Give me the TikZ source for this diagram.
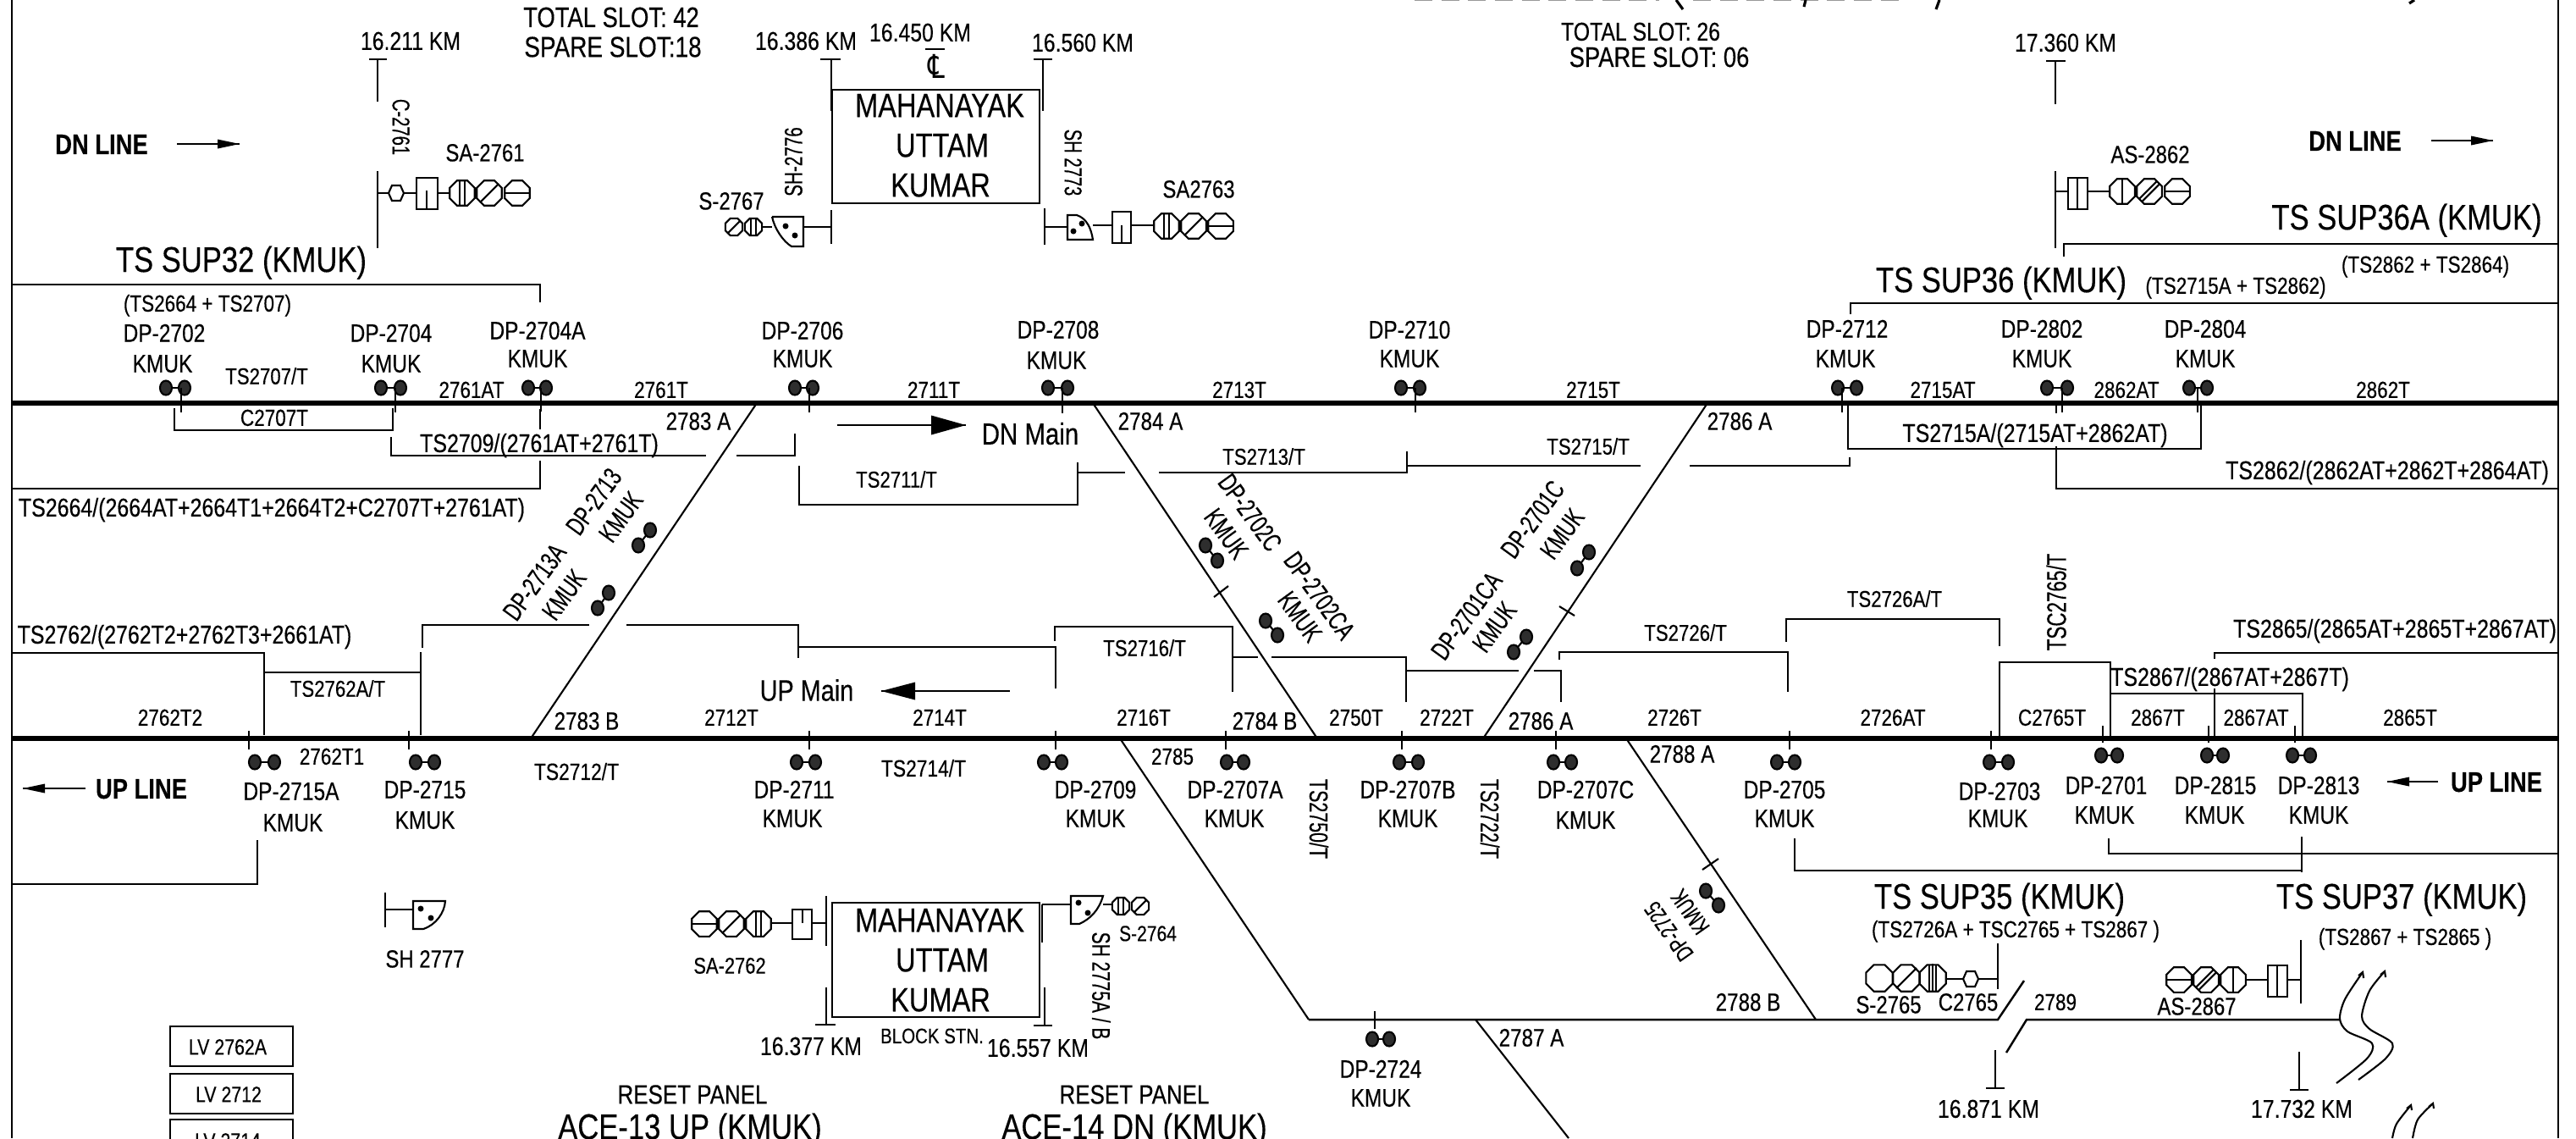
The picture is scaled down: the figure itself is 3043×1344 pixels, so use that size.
\documentclass[tikz,border=0pt]{standalone}
\usepackage{fontspec}
\setmainfont{Liberation Sans}
\newfontfamily\nf{Liberation Sans}[FakeStretch=0.82,FakeBold=0.3]
\newfontfamily\nfv{Liberation Sans}[FakeStretch=0.7,FakeBold=0.3]
\newfontfamily\symf{DejaVu Sans}[FakeStretch=0.8]
\newdimen\lblcap
\newcommand\lbl[5][]{\lblcap=#4pt \lblcap=0.716\lblcap \node[lab,text height=\the\lblcap,#1] at (#2,#3) {\nf\fontsize{#4}{#4}\selectfont #5};}
\newcommand\lbv[5][]{\lblcap=#4pt \lblcap=0.716\lblcap \node[lab,text height=\the\lblcap,#1] at (#2,#3) {\nfv\fontsize{#4}{#4}\selectfont #5};}
\newcommand\octa[3]{\draw[shift={(#1,#2)}] (22.5:#3)--(67.5:#3)--(112.5:#3)--(157.5:#3)--(202.5:#3)--(247.5:#3)--(292.5:#3)--(337.5:#3)--cycle;}
\newcommand\hV[3]{\octa{#1}{#2}{#3}\draw[shift={(#1,#2)}] (-3,{-.98*#3})--(-3,{.98*#3}) (3,{-.98*#3})--(3,{.98*#3});}
\newcommand\hS[3]{\octa{#1}{#2}{#3}\draw[shift={(#1,#2)}] (0,{-.98*#3})--(0,{.98*#3});}
\newcommand\hT[3]{\octa{#1}{#2}{#3}\draw[shift={(#1,#2)}] (-4,{-.95*#3})--(-4,{.95*#3}) (0,{-.98*#3})--(0,{.98*#3}) (4,{-.95*#3})--(4,{.95*#3});}
\newcommand\hD[3]{\octa{#1}{#2}{#3}\draw[shift={(#1,#2)}] ({-.7*#3},{.7*#3})--({.7*#3},{-.7*#3});}
\newcommand\hW[3]{\octa{#1}{#2}{#3}\draw[shift={(#1,#2)}] ({-.75*#3},{.55*#3})--({.55*#3},{-.75*#3}) ({-.55*#3},{.75*#3})--({.75*#3},{-.55*#3});}
\newcommand\hH[3]{\octa{#1}{#2}{#3}\draw[shift={(#1,#2)}] (-#3,0)--(#3,0);}
\newcommand\hex[2]{\draw[shift={(#1,#2)}] (-9,0)--(-5,-9)--(5,-9)--(9,0)--(5,9)--(-5,9)--cycle;}
\newcommand\dpair[4]{\draw (#1,#2)--(#3,#4);\fill[black!82,draw=black] (#1,#2) ellipse (7 and 8.5);\fill[black!82,draw=black] (#3,#4) ellipse (7 and 8.5);}
\newcommand\dpr[3]{\dpair{#1}{#3}{#2}{#3}}
\newcommand\arR[5]{\draw (#1,#3)--(#2,#3);\fill (#2,#3)--({#2-#4},{#3-#5})--({#2-#4},{#3+#5})--cycle;}
\newcommand\arL[5]{\draw (#1,#3)--(#2,#3);\fill (#2,#3)--({#2+#4},{#3-#5})--({#2+#4},{#3+#5})--cycle;}
\tikzset{
  lab/.style={inner sep=0pt,outer sep=0pt,text depth=0pt,align=center},
  track/.style={line width=1.5pt},
}
\begin{document}
\begin{tikzpicture}[x=0.01cm,y=-0.01cm,line width=0.6pt]
\useasboundingbox (0,0) rectangle (3043,1344);
\clip (0,0) rectangle (3043,1344);
\fill[white] (0,0) rectangle (3043,1344);
% frame
\draw[line width=0.75pt] (14,0)--(14,1344) (3022,0)--(3022,1344);
% clipped title slivers
\draw[black!40,line width=0.3pt,dash pattern=on 6pt off 3pt] (1671,0.6)--(1960,0.6) (2000,0.6)--(2250,0.6);
\draw[line width=0.9pt] (1980,0)--(1988,11) (2133,0)--(2131,8) (2291,0)--(2287,11) (2852,0)--(2846,4);
% tracks
\draw[track] (14,476)--(3022,476) (14,872)--(3022,872);
% diagonals
\draw (894,476)--(627,872) (1291,476)--(1556,872) (2017,476)--(1752,872)
      (1323,872)--(1546,1204) (1921,872)--(2145,1204) (1743,1204)--(1853,1344);
\draw[line width=0.7pt] (1546,1204)--(2360,1204)--(2391,1158) (2370,1243)--(2394,1204)--(2764,1204);
\draw (1434,705)--(1451,692) (1842,716)--(1860,727) (2011,1027)--(2030,1014);
% breaks
\draw plot[smooth] coordinates {(2791,1148)(2770,1180)(2764,1203)(2773,1218)(2802,1232)(2796,1250)(2760,1279)};
\draw plot[smooth] coordinates {(2817,1147)(2799,1170)(2790,1200)(2799,1215)(2826,1232)(2818,1250)(2786,1275)};
\draw plot[smooth] coordinates {(2848,1305)(2831,1327)(2826,1344)};
\draw plot[smooth] coordinates {(2874,1303)(2856,1322)(2850,1344)};
\draw (2786,1152)--(2791,1148)--(2792,1155) (2812,1151)--(2817,1147)--(2818,1154) (2843,1309)--(2848,1305)--(2849,1311) (2869,1307)--(2874,1303)--(2875,1309);
% DN dots + stems
\dpr{196}{218}{458}\draw (214,458)--(214,487);
\dpr{450}{473}{458}\draw (467,458)--(467,487);
\dpr{624}{645}{458}\draw (639,458)--(639,486);
\dpr{939}{960}{458}\draw (956,458)--(956,487);
\dpr{1238}{1261}{458}\draw (1255,458)--(1255,488);
\dpr{1655}{1677}{458}\draw (1672,458)--(1672,487);
\dpr{2171}{2193}{458}\draw (2176,458)--(2176,487);
\dpr{2418}{2442}{458}\draw (2436,458)--(2436,487) (2429,478)--(2429,488);
\dpr{2586}{2607}{458}\draw (2596,458)--(2596,487);
% UP dots + stems
\dpr{301}{324}{900}\draw (294,863)--(294,885);
\dpr{491}{513}{900}\draw (483,863)--(483,885);
\dpr{941}{963}{900}\draw (956,863)--(956,885);
\dpr{1233}{1254}{900}\draw (1247,863)--(1247,885);
\dpr{1449}{1469}{900}\draw (1448,863)--(1448,885);
\dpr{1653}{1675}{900}\draw (1656,863)--(1656,885);
\dpr{1835}{1856}{900}\draw (1838,863)--(1838,885);
\dpr{2099}{2120}{900}\draw (2114,863)--(2114,885);
\dpr{2350}{2372}{900}\draw (2352,863)--(2352,885);
\dpr{2482}{2501}{892}\draw (2484,857)--(2484,877);
\dpr{2607}{2626}{892}\draw (2609,857)--(2609,877);
\dpr{2708}{2729}{892}\draw (2711,857)--(2711,877);
\dpr{1621}{1641}{1227}\draw (1624,1194)--(1624,1215);
% diagonal dots
\dpair{768}{626}{754}{644}
\dpair{719}{700}{706}{718}
\dpair{1424}{644}{1438}{662}
\dpair{1495}{733}{1509}{750}
\dpair{1803}{752}{1788}{770}
\dpair{1877}{652}{1863}{671}
\dpair{2015}{1052}{2030}{1069}
% track circuit lines DN
\draw (14,336)--(638,336)--(638,357);
\draw (2186,371)--(2186,358)--(3022,358);
\draw (2438,303)--(2438,288)--(3022,288);
\draw (206,482)--(206,508)--(464,508)--(464,482);
\draw (462,516)--(462,538)--(834,538) (870,538)--(939,538)--(939,512);
\draw (638,483)--(638,507) (638,544)--(638,577)--(14,577);
\draw (944,550)--(944,596)--(1273,596)--(1273,546) (1273,558)--(1329,558) (1369,558)--(1662,558)--(1662,533) (1662,550)--(1938,550) (1996,550)--(2185,550)--(2185,540);
\draw (2183,478)--(2183,530)--(2600,530)--(2600,478);
\draw (2429,527)--(2429,577)--(3022,577);
% track circuit lines UP
\draw (14,771)--(312,771)--(312,868) (312,794)--(497,794) (497,770)--(497,868);
\draw (499,765)--(499,738)--(696,738) (740,738)--(943,738)--(943,777) (943,764)--(1247,764)--(1247,813);
\draw (1246,757)--(1246,740)--(1456,740)--(1456,817) (1456,776)--(1486,776) (1502,776)--(1661,776)--(1661,829) (1661,792)--(1794,792) (1812,792)--(1844,792)--(1844,829);
\draw (1842,779)--(1842,770)--(2112,770)--(2112,817);
\draw (2110,758)--(2110,731)--(2362,731)--(2362,763);
\draw (2362,872)--(2362,782)--(2493,782)--(2493,872) (2493,819)--(2720,819)--(2720,872);
\draw (2616,778)--(2616,771)--(3022,771) (2616,813)--(2616,872);
\draw (304,992)--(304,1044)--(14,1044);
\draw (2120,990)--(2120,1028)--(2719,1028) (2719,988)--(2719,1030);
\draw (2491,990)--(2491,1008)--(3022,1008);
% km markers
\draw (436,70)--(457,70) (446,70)--(446,120) (446,202)--(446,293);
\draw (969,70)--(993,70) (982,70)--(982,131) (982,248)--(982,288);
\draw (1221,70)--(1243,70) (1232,70)--(1232,131) (1234,246)--(1234,289);
\draw (1093,58)--(1116,58);
\draw (2417,72)--(2440,72) (2428,72)--(2428,123) (2428,202)--(2428,293);
\draw (2357,1240)--(2357,1285) (2346,1285)--(2368,1285);
\draw (2716,1242)--(2716,1287) (2705,1287)--(2727,1287);
\draw (976,1058)--(976,1117) (976,1166)--(976,1210) (963,1210)--(987,1210);
\draw (1231,1068)--(1231,1113) (1234,1166)--(1234,1211) (1221,1211)--(1243,1211);
% station boxes
\draw[line width=0.7pt] (983,106) rectangle (1228,240);
\draw[line width=0.7pt] (983,1066) rectangle (1228,1201);
% LV boxes
\draw[line width=0.7pt] (201,1212) rectangle (346,1259) (201,1268) rectangle (346,1315) (201,1322) rectangle (346,1400);
% signal SA-2761
\draw (446,228)--(459,228) (477,228)--(492,228) (517,228)--(531,228);
\hex{468}{228}
\draw (492,210) rectangle (517,247) (504,225)--(504,247);
\hV{546}{228}{16}\hD{578}{228}{16}\hH{611}{228}{16}
% signal SA2763
\draw (1234,268)--(1261,268) (1291,266)--(1314,266) (1336,266)--(1362,266);
\draw (1261,254)--(1272,254) .. controls (1284,258) and (1289,270) .. (1291,283)--(1261,283)--cycle;
\fill (1278,264) circle (3.5) (1268,273) circle (3.5);
\draw (1314,250) rectangle (1336,287) (1325,266)--(1325,287);
\hV{1378}{267}{16}\hD{1410}{267}{16}\hH{1442}{267}{16}
% signal S-2767
\draw (949,268)--(982,268);
\draw (912,256)--(949,256)--(949,291)--(935,291) .. controls (925,285) and (915,270) .. (912,256);
\fill (928,267) circle (3.5) (939,278) circle (3.5);
\draw (901,268)--(912,268);
\hV{890}{268}{11}\hD{867}{268}{11}
% signal AS-2862
\draw (2428,226)--(2443,226) (2466,226)--(2491,226);
\draw (2443,210) rectangle (2466,247) (2454,210)--(2454,247);
\hS{2507}{226}{16}\hW{2539}{226}{16}\hH{2572}{226}{16}
% signal SH 2777
\draw (455,1054)--(455,1095) (455,1074)--(488,1074);
\draw (488,1064)--(526,1064) .. controls (525,1078) and (515,1092) .. (500,1097)--(488,1097)--cycle;
\fill (497,1073) circle (3.5) (509,1084) circle (3.5);
% signal SA-2762
\draw (976,1090)--(959,1090) (936,1090)--(912,1090);
\draw (936,1074) rectangle (959,1109) (948,1074)--(948,1090);
\hH{832}{1091}{16}\hD{864}{1091}{16}\hV{896}{1091}{16}
% signal S-2764
\draw (1231,1068)--(1265,1068) (1303,1068)--(1313,1068);
\draw (1265,1058)--(1303,1058) .. controls (1298,1075) and (1288,1085) .. (1275,1091)--(1265,1091)--cycle;
\fill (1274,1066) circle (3.5) (1285,1078) circle (3.5);
\hV{1324}{1070}{11}\hD{1347}{1070}{11}
% signal S-2765
\draw (2360,1114)--(2360,1168) (2360,1156)--(2337,1156) (2319,1156)--(2299,1156);
\hex{2328}{1156}
\octa{2220}{1155}{17}\hD{2252}{1155}{17}\hT{2283}{1155}{17}
% signal AS-2867
\draw (2718,1110)--(2718,1185) (2718,1157)--(2702,1157) (2679,1157)--(2654,1157);
\draw (2679,1140) rectangle (2702,1177) (2690,1140)--(2690,1177);
\hH{2574}{1157}{16}\hW{2606}{1157}{16}\hS{2638}{1157}{16}
% arrows
\arR{209}{283}{170}{26}{5.5}
\arR{2872}{2945}{166}{26}{5.5}
\arL{101}{27}{931}{26}{5.5}
\arL{2880}{2820}{923}{26}{5.5}
\arR{989}{1141}{502}{41}{11.5}
\arL{1193}{1041}{816}{40}{10.5}
% ---- texts
\lbl{722}{20}{9.5}{TOTAL SLOT: 42}
\lbl{724}{55}{9.7}{SPARE SLOT:18}
\lbl{1938}{37}{8.6}{TOTAL SLOT: 26}
\lbl{1960}{67}{9.5}{SPARE SLOT: 06}
\lbl{485}{48}{8.6}{16.211 KM}
\lbl{952}{48}{8.6}{16.386 KM}
\lbl{1087}{38}{8.6}{16.450 KM}
\lbl{1279}{50}{8.6}{16.560 KM}
\lbl{2440}{50}{8.6}{17.360 KM}
\node[lab] at (1106,78) {\symf\fontsize{11}{11}\selectfont ℄};
\lbl{120}{170}{9.5}{\bfseries DN LINE}
\lbl{2782}{166}{9.5}{\bfseries DN LINE}
\lbl{167}{931}{9.5}{\bfseries UP LINE}
\lbl{2949}{923}{9.5}{\bfseries UP LINE}
\lbv[rotate=-90]{474}{150}{8.2}{C-2761}
\lbv[rotate=90]{937}{191}{8.4}{SH-2776}
\lbv[rotate=-90]{1268}{192}{8.2}{SH 2773}
\lbv[rotate=90]{2429}{711}{9.1}{TSC2765/T}
\lbv[rotate=-90]{1558}{967}{8.7}{TS2750/T}
\lbv[rotate=-90]{1760}{967}{8.7}{TS2722/T}
\lbv[rotate=-90]{1301}{1164}{8.5}{SH 2775A / B}
\lbl{573}{180}{8.3}{SA-2761}
\lbl{1416}{223}{8.3}{SA2763}
\lbl{864}{237}{8.3}{S-2767}
\lbl{2540}{182}{8.3}{AS-2862}
\lbl{862}{1140}{7.6}{SA-2762}
\lbl{1356}{1102}{7.3}{S-2764}
\lbl{502}{1132}{8.3}{SH 2777}
\lbl{2231}{1186}{8.3}{S-2765}
\lbl{2325}{1183}{8.3}{C2765}
\lbl{2595}{1188}{8.3}{AS-2867}
\foreach \yy in {124,1086}{\lbl{1110}{\yy}{11.3}{MAHANAYAK}}
\foreach \yy in {171,1133}{\lbl{1113}{\yy}{11.3}{UTTAM}}
\foreach \yy in {218,1180}{\lbl{1111}{\yy}{11.3}{KUMAR}}
\lbl{285}{306}{12}{TS SUP32 (KMUK)}
\lbl{2364}{330}{12}{TS SUP36 (KMUK)}
\lbl{2843}{256}{12}{TS SUP36A (KMUK)}
\lbl{2362}{1058}{12}{TS SUP35 (KMUK)}
\lbl{2837}{1058}{12}{TS SUP37 (KMUK)}
\lbl{245}{358}{7.8}{(TS2664 + TS2707)}
\lbl{2641}{337}{7.8}{(TS2715A + TS2862)}
\lbl{2865}{312}{7.8}{(TS2862 + TS2864)}
\lbl{2381}{1097}{7.8}{(TS2726A + TSC2765 + TS2867 )}
\lbl{2841}{1106}{7.8}{(TS2867 + TS2865 )}
% DP labels above DN
\lbl{194}{393}{8.5}{DP-2702}\lbl{192}{429}{8.5}{KMUK}
\lbl{462}{393}{8.5}{DP-2704}\lbl{462}{429}{8.5}{KMUK}
\lbl{635}{390}{8.5}{DP-2704A}\lbl{635}{423}{8.5}{KMUK}
\lbl{948}{390}{8.5}{DP-2706}\lbl{948}{423}{8.5}{KMUK}
\lbl{1250}{389}{8.5}{DP-2708}\lbl{1248}{425}{8.5}{KMUK}
\lbl{1665}{389}{8.5}{DP-2710}\lbl{1665}{423}{8.5}{KMUK}
\lbl{2182}{388}{8.5}{DP-2712}\lbl{2180}{423}{8.5}{KMUK}
\lbl{2412}{388}{8.5}{DP-2802}\lbl{2412}{423}{8.5}{KMUK}
\lbl{2605}{388}{8.5}{DP-2804}\lbl{2605}{423}{8.5}{KMUK}
\lbl{315}{444}{7.7}{TS2707/T}
% row DN
\lbl{557}{460}{7.8}{2761AT}
\lbl{781}{460}{7.8}{2761T}
\lbl{1103}{460}{7.8}{2711T}
\lbl{1464}{460}{7.8}{2713T}
\lbl{1882}{460}{7.8}{2715T}
\lbl{2295}{460}{7.8}{2715AT}
\lbl{2512}{460}{7.8}{2862AT}
\lbl{2815}{460}{7.8}{2862T}
% below DN
\lbl{324}{493}{7.8}{C2707T}
\lbl{637}{523}{8.65}{TS2709/(2761AT+2761T)}
\lbl{321}{599}{8.65}{TS2664/(2664AT+2664T1+2664T2+C2707T+2761AT)}
\lbl{825}{497}{8.4}{2783 A}
\lbl{1359}{497}{8.4}{2784 A}
\lbl{2055}{497}{8.4}{2786 A}
\lbl{1217}{512}{10.2}{DN Main}
\lbl{1059}{566}{7.7}{TS2711/T}
\lbl{1493}{539}{7.7}{TS2713/T}
\lbl{1876}{527}{7.7}{TS2715/T}
\lbl{2404}{511}{8.65}{TS2715A/(2715AT+2862AT)}
\lbl{2820}{555}{8.65}{TS2862/(2862AT+2862T+2864AT)}
% diagonal labels
\lbv[rotate=54]{701}{592}{9}{DP-2713}\lbv[rotate=54]{733}{610}{9}{KMUK}
\lbv[rotate=54]{631}{687}{9}{DP-2713A}\lbv[rotate=54]{666}{702}{9}{KMUK}
\lbv[rotate=-54]{1477}{605}{9}{DP-2702C}\lbv[rotate=-54]{1449}{630}{9}{KMUK}
\lbv[rotate=-54]{1559}{703}{9}{DP-2702CA}\lbv[rotate=-54]{1536}{728}{9}{KMUK}
\lbv[rotate=54]{1732}{727}{9}{DP-2701CA}\lbv[rotate=54]{1765}{740}{9}{KMUK}
\lbv[rotate=54]{1810}{613}{9}{DP-2701C}\lbv[rotate=54]{1845}{630}{9}{KMUK}
\lbv[rotate=125]{1971}{1100}{8}{DP-2725}\lbv[rotate=125]{1996}{1077}{8}{KMUK}
% above UP
\lbl{218}{749}{8.65}{TS2762/(2762T2+2762T3+2661AT)}
\lbl{399}{813}{7.7}{TS2762A/T}
\lbl{953}{815}{10}{UP Main}
\lbl{1352}{765}{7.7}{TS2716/T}
\lbl{1991}{747}{7.7}{TS2726/T}
\lbl{2238}{707}{7.7}{TS2726A/T}
\lbl{2634}{799}{8.65}{TS2867/(2867AT+2867T)}
\lbl{2829}{742}{8.65}{TS2865/(2865AT+2865T+2867AT)}
\lbl{201}{847}{7.8}{2762T2}
\lbl{693}{851}{8.4}{2783 B}
\lbl{864}{847}{7.8}{2712T}
\lbl{1110}{847}{7.8}{2714T}
\lbl{1351}{847}{7.8}{2716T}
\lbl{1494}{851}{8.4}{2784 B}
\lbl{1602}{847}{7.8}{2750T}
\lbl{1709}{847}{7.8}{2722T}
\lbl{1820}{851}{8.4}{2786 A}
\lbl{1978}{847}{7.8}{2726T}
\lbl{2236}{847}{7.8}{2726AT}
\lbl{2424}{847}{7.8}{C2765T}
\lbl{2549}{847}{7.8}{2867T}
\lbl{2665}{847}{7.8}{2867AT}
\lbl{2847}{847}{7.8}{2865T}
% below UP
\lbl{392}{893}{7.8}{2762T1}
\lbl{1385}{893}{7.8}{2785}
\lbl{1987}{890}{8.4}{2788 A}
\lbl{681}{911}{7.9}{TS2712/T}
\lbl{1091}{907}{7.9}{TS2714/T}
\lbl{344}{934}{8.5}{DP-2715A}\lbl{346}{971}{8.5}{KMUK}
\lbl{502}{932}{8.5}{DP-2715}\lbl{502}{968}{8.5}{KMUK}
\lbl{938}{932}{8.5}{DP-2711}\lbl{936}{966}{8.5}{KMUK}
\lbl{1294}{932}{8.5}{DP-2709}\lbl{1294}{966}{8.5}{KMUK}
\lbl{1459}{932}{8.5}{DP-2707A}\lbl{1458}{966}{8.5}{KMUK}
\lbl{1663}{932}{8.5}{DP-2707B}\lbl{1663}{966}{8.5}{KMUK}
\lbl{1873}{932}{8.5}{DP-2707C}\lbl{1873}{968}{8.5}{KMUK}
\lbl{2108}{932}{8.5}{DP-2705}\lbl{2108}{966}{8.5}{KMUK}
\lbl{2362}{934}{8.5}{DP-2703}\lbl{2360}{966}{8.5}{KMUK}
\lbl{2488}{927}{8.5}{DP-2701}\lbl{2486}{962}{8.5}{KMUK}
\lbl{2617}{927}{8.5}{DP-2815}\lbl{2616}{962}{8.5}{KMUK}
\lbl{2739}{927}{8.5}{DP-2813}\lbl{2739}{962}{8.5}{KMUK}
\lbl{1631}{1262}{8.5}{DP-2724}\lbl{1631}{1296}{8.5}{KMUK}
% bottom
\lbl{2065}{1183}{8.4}{2788 B}
\lbl{2428}{1183}{7.8}{2789}
\lbl{1809}{1225}{8.4}{2787 A}
\lbl{958}{1235}{8.6}{16.377 KM}
\lbl{1226}{1237}{8.6}{16.557 KM}
\lbl{1101}{1223}{7.1}{BLOCK STN.}
\lbl{2349}{1309}{8.6}{16.871 KM}
\lbl{2719}{1309}{8.6}{17.732 KM}
\lbl{269}{1236}{7.4}{LV 2762A}
\lbl{270}{1292}{7.4}{LV 2712}
\lbl{269}{1347}{7.4}{LV 2714}
\lbl{818}{1292}{9}{RESET PANEL}
\lbl{1340}{1292}{9}{RESET PANEL}
\lbl{815}{1330}{12}{ACE-13 UP (KMUK)}
\lbl{1340}{1330}{12}{ACE-14 DN (KMUK)}
\end{tikzpicture}
\end{document}
